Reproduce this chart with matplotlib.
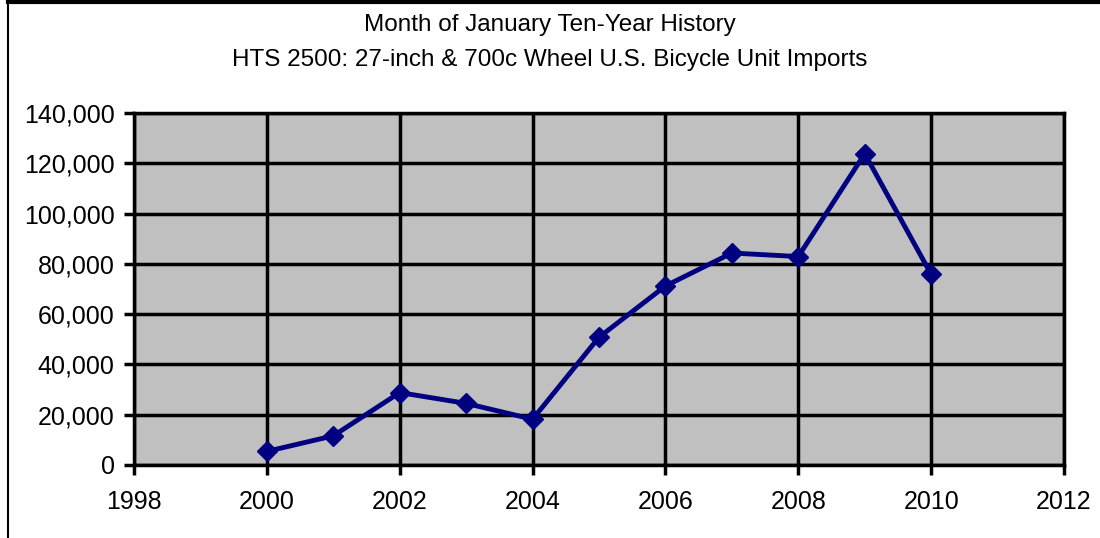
import matplotlib.pyplot as plt
from matplotlib.ticker import FuncFormatter
from matplotlib.lines import Line2D

years = [2000, 2001, 2002, 2003, 2004, 2005, 2006, 2007, 2008, 2009, 2010]
units = [5400, 11600, 28800, 24500, 18200, 50800, 71200, 84300, 82900, 123800, 75800]

plt.rcParams['font.family'] = ['Liberation Sans', 'DejaVu Sans']

fig = plt.figure(figsize=(11, 5.38), dpi=100)
ax = fig.add_axes([0.1218, 0.1357, 0.8455, 0.6543])
ax.set_facecolor('#C0C0C0')

ax.plot(years, units, color='#000080', lw=3.5, marker='D', ms=10, zorder=3)

ax.set_xlim(1998, 2012)
ax.set_ylim(0, 140000)
ax.set_xticks(range(1998, 2013, 2))
ax.set_yticks(range(0, 140001, 20000))
ax.yaxis.set_major_formatter(FuncFormatter(lambda v, p: f'{int(v):,}'))
ax.grid(True, color='black', lw=2.5)
ax.set_axisbelow(True)
for s in ax.spines.values():
    s.set_linewidth(2.5)
    s.set_color('black')
ax.tick_params(direction='out', length=7, width=2.5, labelsize=18, pad=7)
ax.tick_params(axis='x', pad=11)

fig.text(0.5, 0.953, 'Month of January Ten-Year History', ha='center', va='center', fontsize=17.5)
fig.text(0.5, 0.888, 'HTS 2500: 27-inch & 700c Wheel U.S. Bicycle Unit Imports', ha='center', va='center', fontsize=17.5)

# chart border (top and left edges visible)
fig.add_artist(Line2D([0.0075, 1.0], [0.996, 0.996], transform=fig.transFigure, color='black', lw=3))
fig.add_artist(Line2D([0.0075, 0.0075], [0.0, 0.996], transform=fig.transFigure, color='black', lw=1.5))

fig.savefig('out.png', dpi=100)
